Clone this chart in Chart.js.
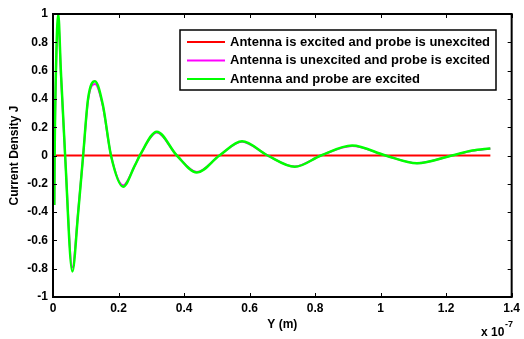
<!DOCTYPE html>
<html>
<head>
<meta charset="utf-8">
<script src="https://cdn.jsdelivr.net/npm/chart.js@4.4.1/dist/chart.umd.min.js"></script>
<style>
  html, body { margin: 0; padding: 0; background: #fff; }
  #wrap { width: 524px; height: 339px; }
</style>
</head>
<body>
<div id="wrap"><canvas id="chart" width="524" height="339"></canvas></div>
<script>
// Y position in units of 1e-7 m (axis shows "x 10^-7")
const yPos = [0.004, 0.005, 0.009, 0.016, 0.024, 0.037, 0.059, 0.077, 0.092, 0.107, 0.128, 0.152, 0.177, 0.214, 0.25, 0.265,
              0.317, 0.378, 0.439, 0.508, 0.577, 0.655, 0.738, 0.818, 0.913, 1.015, 1.111, 1.218, 1.28, 1.335];

// Antenna and probe are excited
const bothExcited = [-0.35, 0.0, 0.6, 1.0, 0.6, 0.0, -0.82, -0.4, 0.0, 0.4, 0.525, 0.36, 0.0, -0.22, -0.07, 0.0,
                     0.168, 0.0, -0.12, 0.0, 0.10, 0.0, -0.08, 0.0, 0.07, 0.0, -0.055, 0.0, 0.035, 0.05];

// Antenna is unexcited and probe is excited
const probeOnly = [-0.35, 0.0, 0.58, 0.97, 0.58, 0.0, -0.79, -0.39, 0.0, 0.39, 0.505, 0.35, 0.0, -0.21, -0.07, 0.0,
                   0.162, 0.0, -0.117, 0.0, 0.098, 0.0, -0.078, 0.0, 0.068, 0.0, -0.054, 0.0, 0.034, 0.049];

// Antenna is excited and probe is unexcited
const antennaPos = [0, 1.335];
const antennaOnly = [0, 0];

const labels = [
    "Antenna is excited and probe is unexcited",
    "Antenna is unexcited and probe is excited",
    "Antenna and probe are excited"
];
const colors = ["#ff0000", "#ff00ff", "#00ff00"];

const xTicks = [0, 0.2, 0.4, 0.6, 0.8, 1, 1.2, 1.4];
const yTicks = [-1, -0.8, -0.6, -0.4, -0.2, 0, 0.2, 0.4, 0.6, 0.8, 1];

const FONT = "Liberation Sans, Arial, sans-serif";

function toPoints(xs, ys) {
    return xs.map((x, i) => ({ x: x, y: ys[i] }));
}

// box, inward ticks, legend and exponent label, MATLAB style
const matlabAxes = {
    id: "matlabAxes",
    afterDatasetsDraw(chart) {
        const ctx = chart.ctx;
        const a = chart.chartArea;
        const xs = chart.scales.x;
        const ys = chart.scales.y;
        ctx.save();
        ctx.strokeStyle = "#000";
        ctx.lineWidth = 1;
        ctx.beginPath();
        xTicks.forEach(v => {
            const px = Math.round(xs.getPixelForValue(v)) + 0.5;
            ctx.moveTo(px, a.bottom); ctx.lineTo(px, a.bottom - 4);
            ctx.moveTo(px, a.top); ctx.lineTo(px, a.top + 4);
        });
        yTicks.forEach(v => {
            const py = Math.round(ys.getPixelForValue(v)) + 0.5;
            ctx.moveTo(a.left, py); ctx.lineTo(a.left + 4, py);
            ctx.moveTo(a.right, py); ctx.lineTo(a.right - 4, py);
        });
        ctx.stroke();
        ctx.lineWidth = 2;
        ctx.strokeRect(a.left, a.top, a.right - a.left, a.bottom - a.top);

        // legend
        const lx = a.left + 127, ly = a.top + 16, lw = 316, lh = 60;
        ctx.fillStyle = "#fff";
        ctx.fillRect(lx, ly, lw, lh);
        ctx.lineWidth = 1.5;
        ctx.strokeRect(lx, ly, lw, lh);
        ctx.font = "bold 13px " + FONT;
        ctx.textBaseline = "middle";
        ctx.textAlign = "left";
        chart.data.datasets.forEach((ds, i) => {
            const ry = ly + 12 + i * 18.5;
            ctx.strokeStyle = ds.borderColor;
            ctx.lineWidth = 2;
            ctx.beginPath();
            ctx.moveTo(lx + 7, ry); ctx.lineTo(lx + 45, ry);
            ctx.stroke();
            ctx.fillStyle = "#000";
            ctx.fillText(ds.label, lx + 50, ry);
        });

        // exponent
        ctx.fillStyle = "#000";
        ctx.textBaseline = "alphabetic";
        ctx.font = "bold 12px " + FONT;
        ctx.fillText("x 10", 481, 335.5);
        ctx.font = "bold 9px " + FONT;
        ctx.fillText("-7", 505, 327);
        ctx.restore();
    }
};

new Chart(document.getElementById("chart"), {
    type: "line",
    data: {
        datasets: [
            {
                label: labels[0],
                data: toPoints(antennaPos, antennaOnly),
                borderColor: colors[0],
                borderWidth: 2,
                pointRadius: 0,
                order: 2
            },
            {
                label: labels[1],
                data: toPoints(yPos, probeOnly),
                borderColor: colors[1],
                borderWidth: 2,
                pointRadius: 0,
                cubicInterpolationMode: "monotone",
                order: 1
            },
            {
                label: labels[2],
                data: toPoints(yPos, bothExcited),
                borderColor: colors[2],
                borderWidth: 2.5,
                pointRadius: 0,
                cubicInterpolationMode: "monotone",
                order: 0
            }
        ]
    },
    options: {
        responsive: false,
        animation: false,
        devicePixelRatio: 1,
        layout: { padding: { top: 14, right: 11, left: 0, bottom: 0 } },
        plugins: {
            legend: { display: false },
            tooltip: { enabled: false }
        },
        scales: {
            x: {
                type: "linear",
                min: 0,
                max: 1.4,
                afterFit: (s) => { s.height = 42; },
                afterBuildTicks: (s) => { s.ticks = xTicks.map(v => ({ value: v })); },
                grid: { display: false, drawTicks: false },
                border: { display: false },
                ticks: {
                    padding: 4,
                    color: "#000",
                    font: { family: FONT, size: 12, weight: "bold" },
                    callback: (v) => String(Math.round(v * 10) / 10),
                    maxRotation: 0,
                    autoSkip: false
                },
                title: {
                    display: true,
                    text: "Y (m)",
                    color: "#000",
                    font: { family: FONT, size: 12, weight: "bold" },
                    padding: { top: 0, bottom: 7 }
                }
            },
            y: {
                min: -1,
                max: 1,
                afterFit: (s) => { s.width = 53; },
                afterBuildTicks: (s) => { s.ticks = yTicks.map(v => ({ value: v })); },
                grid: { display: false, drawTicks: false },
                border: { display: false },
                ticks: {
                    padding: 5,
                    color: "#000",
                    font: { family: FONT, size: 12, weight: "bold" },
                    callback: (v) => String(Math.round(v * 10) / 10),
                    autoSkip: false
                },
                title: {
                    display: true,
                    text: "Current Density J",
                    color: "#000",
                    font: { family: FONT, size: 12, weight: "bold" },
                    padding: { top: 7, bottom: 0 }
                }
            }
        }
    },
    plugins: [matlabAxes]
});
</script>
</body>
</html>
